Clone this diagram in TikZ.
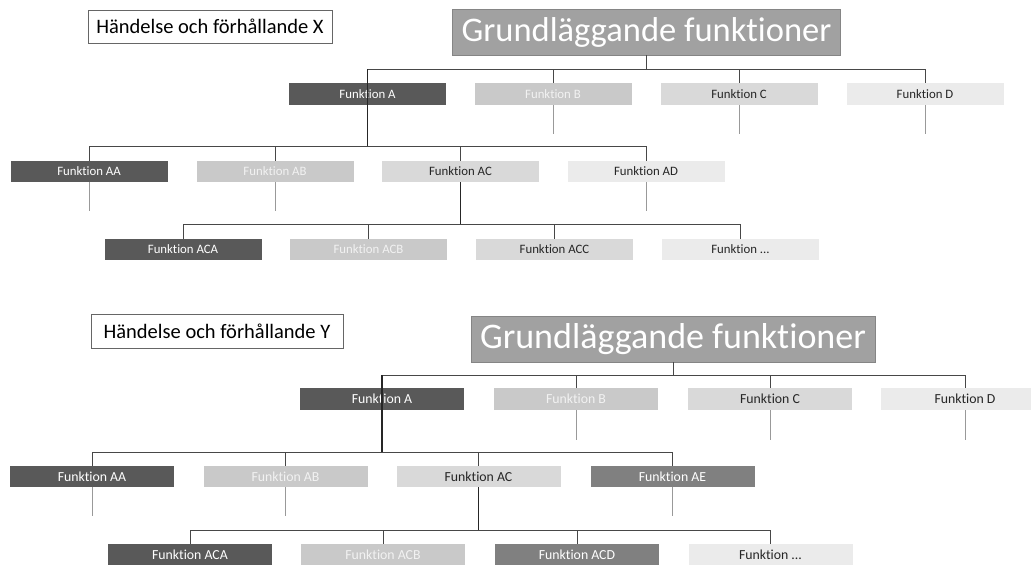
\documentclass[tikz,border=0pt]{standalone}
\usepackage{fontspec}
\setmainfont[Ligatures=NoCommon]{Carlito}
\usetikzlibrary{calc}
\begin{document}
\begin{tikzpicture}[x=1pt,y=-1pt,
  conn/.style={draw=black!72, line width=0.9pt},
  mainconn/.style={draw=black!85, line width=1.4pt},
  stub/.style={draw=black!40, line width=0.9pt},
  fb/.style={minimum height=22pt, inner sep=0pt, outer sep=0pt},
  dark/.style={fb, fill=black!65, text=white},
  mid/.style={fb, fill=black!50, text=white},
  lightb/.style={fb, fill=black!21, text=black!5},
  lightc/.style={fb, fill=black!15, text=black!85},
  lightd/.style={fb, fill=black!8, text=black!85},
  topbox/.style={minimum width=157pt, minimum height=22pt, font=\fontsize{12.8}{14}\selectfont},
  botbox/.style={minimum width=164pt, minimum height=22pt, font=\fontsize{13.8}{15}\selectfont},
  grund/.style={fill=black!37, draw=black!48, line width=0.6pt, text=white, inner sep=0pt},
  label/.style={fill=white, draw=black!60, line width=0.8pt, inner sep=0pt, text=black, font=\fontsize{20.5}{24}\selectfont}
]
\useasboundingbox (0,0) rectangle (1031,565);
\clip (0,0) rectangle (1031,565);

% ===== Section X =====
\node[label, minimum width=244pt, minimum height=33pt] (LX) at (210,26.5) {Händelse och förhållande X};
\node[grund, minimum width=388pt, minimum height=46pt, font=\fontsize{34.5}{40}\selectfont] (GX) at (646.5,32) {Grundläggande funktioner};

\node[dark, topbox] (AX) at (367.5,94) {Funktion A};
\node[lightb, topbox] (BX) at (553,94) {Funktion B};
\node[lightc, topbox] (CX) at (739,94) {Funktion C};
\node[lightd, topbox] (DX) at (925,94) {Funktion D};

\node[dark, topbox, minimum height=21pt] (AAX) at (89,171.5) {Funktion AA};
\node[lightb, topbox, minimum height=21pt] (ABX) at (275,171.5) {Funktion AB};
\node[lightc, topbox, minimum height=21pt] (ACX) at (460.5,171.5) {Funktion AC};
\node[lightd, topbox, minimum height=21pt] (ADX) at (646,171.5) {Funktion AD};

\node[dark, topbox, minimum height=21pt] (ACAX) at (183,249.5) {Funktion ACA};
\node[lightb, topbox, minimum height=21pt] (ACBX) at (368.5,249.5) {Funktion ACB};
\node[lightc, topbox, minimum height=21pt] (ACCX) at (554.5,249.5) {Funktion ACC};
\node[lightd, topbox, minimum height=21pt] (ACEX) at (740.5,249.5) {Funktion ...};

\coordinate (bus1X) at (0,69);
\coordinate (bus2X) at (0,146);
\coordinate (bus3X) at (0,224);

% connectors X
\foreach \c in {AX,BX,CX,DX}{\draw[conn] (GX.south) -- (GX.south |- bus1X) -| (\c.north);}
\foreach \c in {AAX,ABX,ACX,ADX}{\draw[conn] (AX.south |- bus2X) -| (\c.north);}
\draw[mainconn] (AX.north |- bus1X) -- (AX.south |- bus2X);
\foreach \c in {ACAX,ACBX,ACCX,ACEX}{\draw[conn] (ACX.south |- bus3X) -| (\c.north);}
\draw[mainconn] (ACX.south) -- (ACX.south |- bus3X);
\foreach \c in {BX,CX,DX}{\draw[stub] (\c.south) -- ++(0,29);}
\foreach \c in {AAX,ABX,ADX}{\draw[stub] (\c.south) -- ++(0,29);}

% ===== Section Y =====
\node[label, minimum width=252pt, minimum height=34pt] (LY) at (217,331) {Händelse och förhållande Y};
\node[grund, minimum width=404pt, minimum height=46pt, font=\fontsize{36}{42}\selectfont] (GY) at (673,339) {Grundläggande funktioner};

\node[dark, botbox] (AY) at (382,399) {Funktion A};
\node[lightb, botbox] (BY) at (576,399) {Funktion B};
\node[lightc, botbox] (CY) at (770,399) {Funktion C};
\node[lightd, botbox, minimum width=168pt] (DY) at (965,399) {Funktion D};

\node[dark, botbox, minimum height=21pt] (AAY) at (92,476.5) {Funktion AA};
\node[lightb, botbox, minimum height=21pt] (ABY) at (285.5,476.5) {Funktion AB};
\node[lightc, botbox, minimum height=21pt] (ACY) at (478.5,476.5) {Funktion AC};
\node[mid, botbox, minimum height=21pt] (AEY) at (672.5,476.5) {Funktion AE};

\node[dark, botbox, minimum height=21pt] (ACAY) at (190,554.5) {Funktion ACA};
\node[lightb, botbox, minimum height=21pt] (ACBY) at (383,554.5) {Funktion ACB};
\node[mid, botbox, minimum height=21pt] (ACDY) at (577,554.5) {Funktion ACD};
\node[lightd, botbox, minimum height=21pt] (ACEY) at (770.5,554.5) {Funktion ...};

\coordinate (bus1Y) at (0,375);
\coordinate (bus2Y) at (0,452);
\coordinate (bus3Y) at (0,530);

% connectors Y
\foreach \c in {AY,BY,CY,DY}{\draw[conn] (GY.south) -- (GY.south |- bus1Y) -| (\c.north);}
\foreach \c in {AAY,ABY,ACY,AEY}{\draw[conn] (AY.south |- bus2Y) -| (\c.north);}
\draw[mainconn] (AY.north |- bus1Y) -- (AY.south |- bus2Y);
\foreach \c in {ACAY,ACBY,ACDY,ACEY}{\draw[conn] (ACY.south |- bus3Y) -| (\c.north);}
\draw[mainconn] (ACY.south) -- (ACY.south |- bus3Y);
\foreach \c in {BY,CY,DY}{\draw[stub] (\c.south) -- ++(0,30);}
\foreach \c in {AAY,ABY,AEY}{\draw[stub] (\c.south) -- ++(0,29);}
\end{tikzpicture}
\end{document}
